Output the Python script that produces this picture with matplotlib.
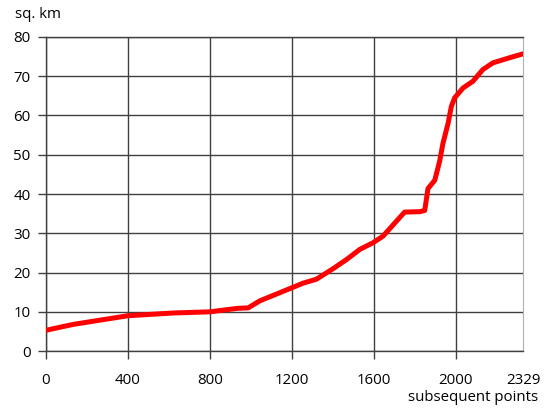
import matplotlib.pyplot as plt

plt.rcParams['font.family'] = ['Open Sans', 'DejaVu Sans']

# curve (point index, area in sq. km)
points = [0, 133, 400, 621, 800, 938, 987, 1044, 1190, 1255, 1320, 1402,
          1467, 1532, 1597, 1646, 1694, 1751, 1824, 1849, 1865, 1898, 1922,
          1938, 1963, 1979, 1995, 2036, 2084, 2133, 2182, 2263, 2329]
area = [5.3, 6.8, 9.0, 9.7, 10.0, 10.9, 11.0, 12.8, 15.9, 17.3, 18.3, 21.0,
        23.3, 25.9, 27.6, 29.3, 32.1, 35.4, 35.5, 35.8, 41.4, 43.5, 48.4,
        52.9, 58.0, 62.3, 64.5, 67.0, 68.7, 71.7, 73.4, 74.7, 75.7]

xticks = [0, 400, 800, 1200, 1600, 2000, 2329]
yticks = [0, 10, 20, 30, 40, 50, 60, 70, 80]

fig = plt.figure(figsize=(5.5, 4.15), dpi=100)
ax = fig.add_axes([0.0836, 0.154, 0.8674, 0.757])

ax.plot(points, area, color='#ff0000', linewidth=3.6, solid_capstyle='round',
        solid_joinstyle='round', zorder=3)

ax.set_xlim(0, 2329)
ax.set_ylim(0, 80)
ax.set_xticks(xticks)
ax.set_yticks(yticks)
ax.grid(True, color='#404040', linewidth=1.0)
ax.set_axisbelow(True)

ax.xaxis.get_gridlines()[-1].set_visible(False)
ax.xaxis.get_major_ticks()[-1].tick1line.set_visible(False)

for side in ['left', 'bottom', 'top']:
    ax.spines[side].set_color('#404040')
    ax.spines[side].set_linewidth(1.0)
ax.spines['right'].set_color('#b0b0b0')

ax.tick_params(axis='x', direction='out', length=6, width=1.0, color='#404040',
               pad=10, labelsize=10.8)
ax.tick_params(axis='y', direction='out', length=6, width=1.0, color='#404040',
               pad=5, labelsize=10.8)

fig.text(15 / 550, 1 - 15 / 415, 'sq. km', fontsize=10.8, ha='left', va='center')
fig.text(538 / 550, 1 - 397 / 415, 'subsequent points', fontsize=10.8,
         ha='right', va='center')

fig.savefig('out.png', dpi=100)
